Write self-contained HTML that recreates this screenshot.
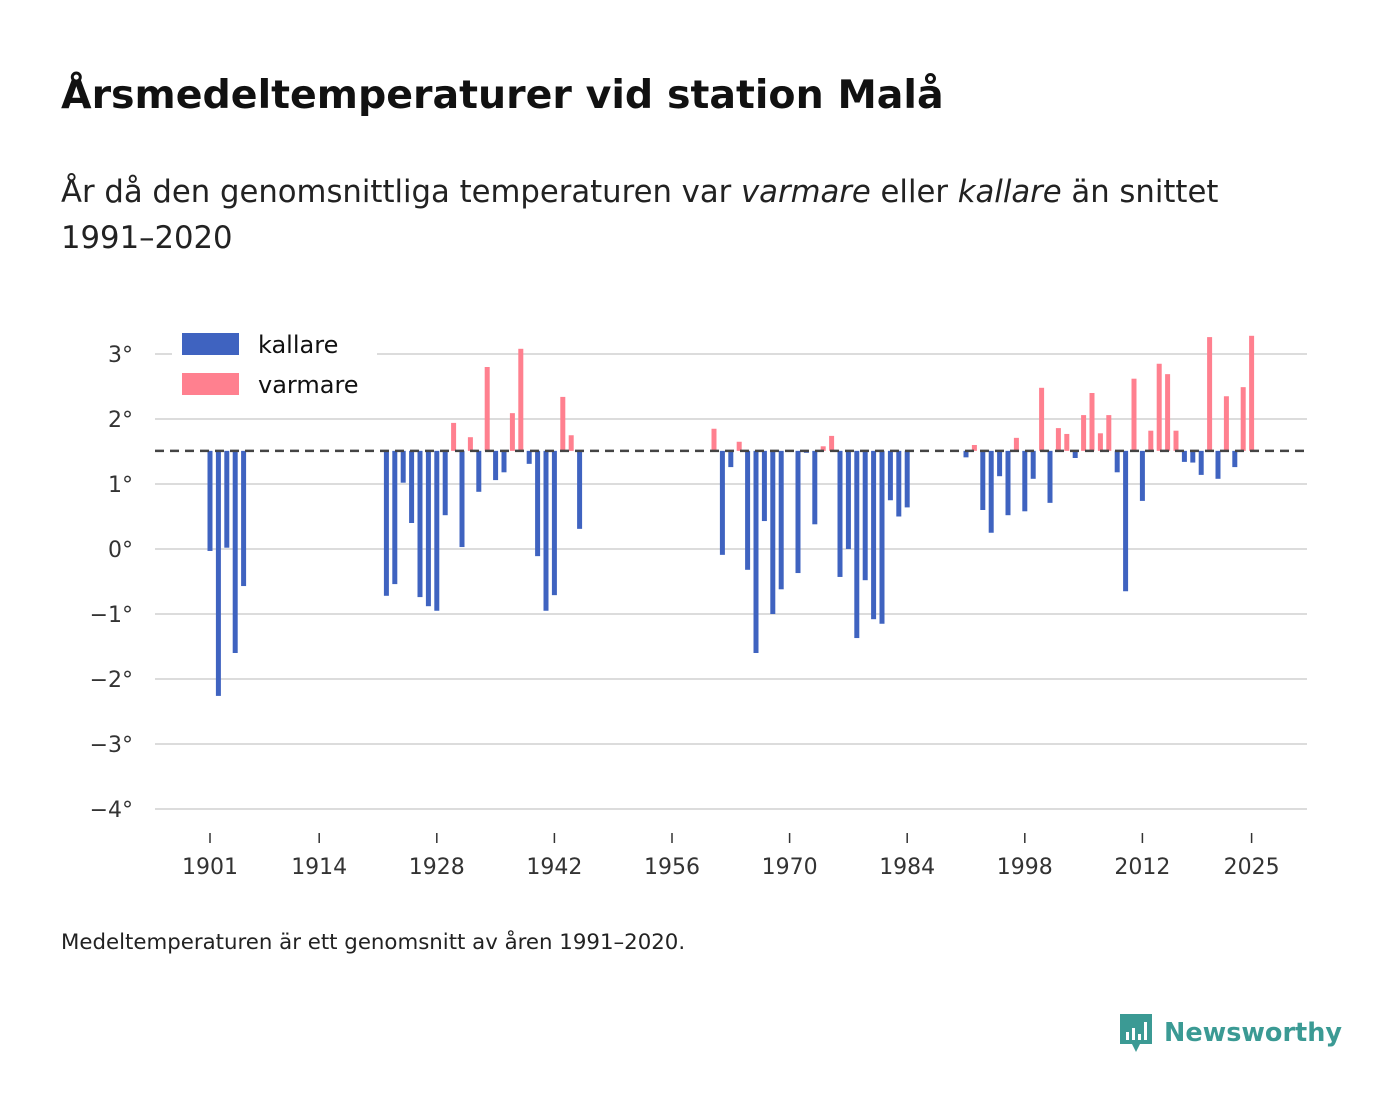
<!DOCTYPE html>
<html><head><meta charset="utf-8"><style>
body{margin:0;background:#fff;width:1400px;height:1116px;overflow:hidden;font-family:"DejaVu Sans","Liberation Sans",sans-serif;color:#111}
h1{position:absolute;left:61px;top:72px;margin:0;font-size:39.5px;font-weight:bold;white-space:nowrap}
.sub{position:absolute;left:61px;top:170px;font-size:30.7px;line-height:46px;width:1300px;color:#222;white-space:nowrap}
.note{position:absolute;left:61px;top:930px;font-size:21.3px;color:#222}
.brand{position:absolute;left:1118px;top:1012px;display:flex;align-items:center;font-size:25.5px;font-weight:bold;color:#3b9a94}
</style></head><body>
<h1>Årsmedeltemperaturer vid station Malå</h1>
<div class="sub">År då den genomsnittliga temperaturen var <i>varmare</i> eller <i>kallare</i> än snittet<br>1991–2020</div>
<svg id="chart" width="1400" height="1116" style="position:absolute;left:0;top:0"></svg>
<div class="note">Medeltemperaturen är ett genomsnitt av åren 1991–2020.</div>
<div class="brand">
<svg width="36" height="42" viewBox="0 0 36 42"><path d="M2 2h32v30H22l-4 8-4-8H2z" fill="#3b9a94"/><rect x="8" y="20" width="3" height="8" fill="#fff"/><rect x="14" y="16" width="3" height="12" fill="#fff"/><rect x="20" y="22" width="3" height="6" fill="#fff"/><rect x="26" y="10" width="3" height="18" fill="#fff"/></svg>
<span style="margin-left:10px">Newsworthy</span></div>
<script>
const years=[1901,1902,1903,1904,1905,1922,1923,1924,1925,1926,1927,1928,1929,1930,1931,1932,1933,1934,1935,1936,1937,1938,1939,1940,1941,1942,1943,1944,1945,1961,1962,1963,1964,1965,1966,1967,1968,1969,1971,1972,1973,1974,1975,1976,1977,1978,1979,1980,1981,1982,1983,1984,1991,1992,1993,1994,1995,1996,1997,1998,1999,2000,2001,2002,2003,2004,2005,2006,2007,2008,2009,2010,2011,2012,2013,2014,2015,2016,2017,2018,2019,2020,2021,2022,2023,2024,2025];
const temps=[-0.03,-2.26,0.02,-1.6,-0.57,-0.72,-0.54,1.02,0.4,-0.74,-0.88,-0.95,0.52,1.94,0.03,1.72,0.88,2.8,1.06,1.18,2.09,3.08,1.31,-0.11,-0.95,-0.71,2.34,1.75,0.31,1.85,-0.09,1.26,1.65,-0.32,-1.6,0.43,-1.0,-0.62,-0.37,1.48,0.38,1.58,1.74,-0.43,0.0,-1.37,-0.48,-1.08,-1.15,0.75,0.5,0.64,1.41,1.6,0.6,0.25,1.12,0.52,1.71,0.58,1.08,2.48,0.71,1.86,1.77,1.4,2.06,2.4,1.78,2.06,1.18,-0.65,2.62,0.74,1.82,2.85,2.69,1.82,1.34,1.33,1.14,3.26,1.08,2.35,1.26,2.49,3.28];
const baseline=1.51;
const yTicks=[-4,-3,-2,-1,0,1,2,3];
const xTicks=[1901,1914,1928,1942,1956,1970,1984,1998,2012,2025];
const NS='http://www.w3.org/2000/svg';
const svg=document.getElementById('chart');
const X=y=>210+(y-1901)*8.4;
const Y=v=>549-v*65;
const FF='DejaVu Sans, Liberation Sans, sans-serif';
function mk(t,a){const e=document.createElementNS(NS,t);for(const k in a)e.setAttribute(k,a[k]);svg.appendChild(e);return e;}
yTicks.forEach(v=>{
  const l=mk('line',{x1:155,x2:1307,y1:Y(v),y2:Y(v),stroke:'#dcdcdc','stroke-width':2});
  
  
  const t=mk('text',{x:133,y:Y(v)+8,'text-anchor':'end','font-size':22,fill:'#333','font-family':FF});
  t.textContent=(v<0?'−'+Math.abs(v):v)+'°';
  
  
});
xTicks.forEach(yr=>{
  const l=mk('line',{x1:X(yr),x2:X(yr),y1:833,y2:843,stroke:'#333','stroke-width':1.5});
  
  
  const t=mk('text',{x:X(yr),y:874,'text-anchor':'middle','font-size':22,fill:'#333','font-family':FF});
  t.textContent=yr;
  
  
});
years.forEach((yr,i)=>{
  const v=temps[i];if(v==null)return;
  const y1=Y(Math.max(v,baseline)),y2=Y(Math.min(v,baseline));
  const r=mk('rect',{x:X(yr)-2.5,y:y1,width:5,height:Math.max(0,y2-y1),fill:v>=baseline?'#ff808f':'#3f63c0'});
  
  
});
const bl=mk('line',{x1:155,x2:1307,y1:Y(baseline),y2:Y(baseline),stroke:'#444','stroke-width':2.5,'stroke-dasharray':'9,6'});


const lb=mk('rect',{x:172,y:322,width:205,height:82,fill:'#fff'});


[['kallare','#3f63c0',333],['varmare','#ff808f',373]].forEach(([n,c,y])=>{
  const r=mk('rect',{x:182,y:y,width:57,height:22,fill:c});
  
  
  const t=mk('text',{x:258,y:y+20,'font-size':24,fill:'#111','font-family':FF});
  t.textContent=n;
  
  
});
</script>
</body></html>
